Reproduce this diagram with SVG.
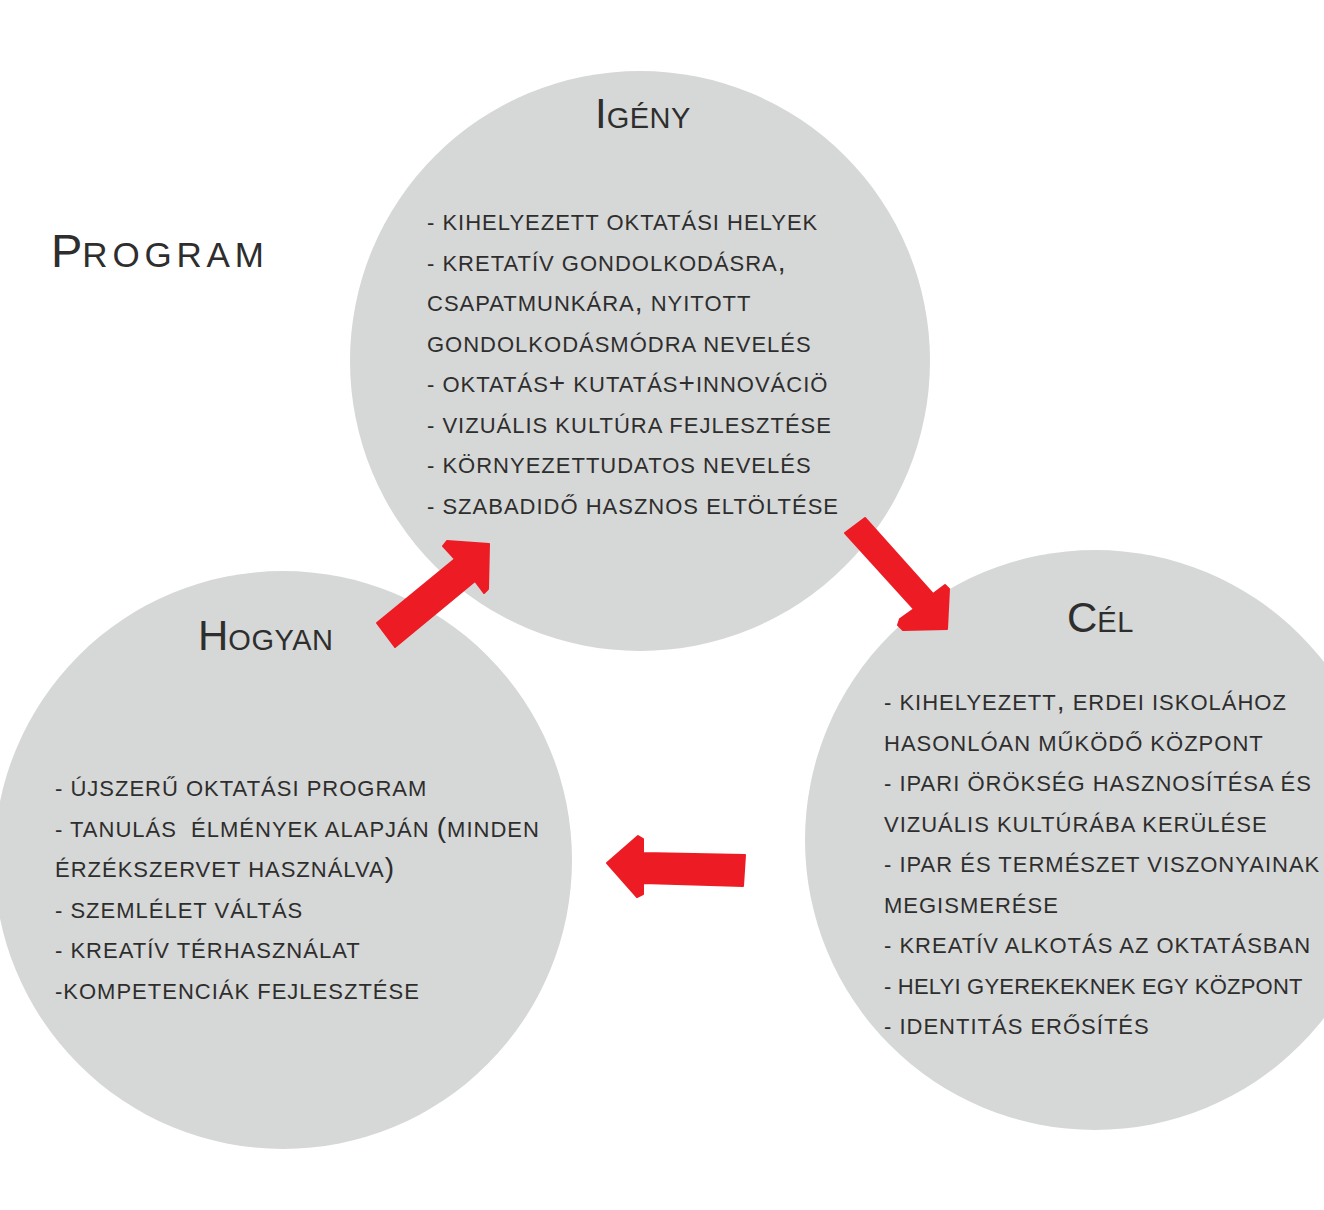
<svg xmlns="http://www.w3.org/2000/svg" width="1324" height="1210" viewBox="0 0 1324 1210">
<style>
.circle{fill:#d6d7d7}
text{font-family:"Liberation Sans",Arial,sans-serif;fill:#2e2e2e}
.body{font-size:22px;letter-spacing:1px;white-space:pre}
.big{font-size:42px}
.small{font-size:29px;letter-spacing:0.5px}
.p{font-size:28px}
.arrow{fill:#ed1c24;stroke:#ed1c24;stroke-width:2;stroke-linejoin:round}
</style>
<rect width="1324" height="1210" fill="#ffffff"/>
<g id="title">
<text x="51" y="267"><tspan font-size="47">P</tspan><tspan font-size="35" letter-spacing="4.8">ROGRAM</tspan></text>
</g>
<g id="node-igeny">
<circle class="circle" cx="640" cy="361" r="290"/>
<text x="595" y="128"><tspan class="big">I</tspan><tspan class="small">GÉNY</tspan></text>
<text class="body" x="427" y="230">- KIHELYEZETT OKTATÁSI HELYEK</text>
<text class="body" x="427" y="270.5">- KRETATÍV GONDOLKODÁSRA<tspan class="p">,</tspan></text>
<text class="body" x="427" y="311">CSAPATMUNKÁRA<tspan class="p">,</tspan> NYITOTT</text>
<text class="body" x="427" y="351.5">GONDOLKODÁSMÓDRA NEVELÉS</text>
<text class="body" x="427" y="392">- OKTATÁS<tspan class="p">+</tspan> KUTATÁS<tspan class="p">+</tspan>INNOVÁCIÖ</text>
<text class="body" x="427" y="432.5">- VIZUÁLIS KULTÚRA FEJLESZTÉSE</text>
<text class="body" x="427" y="473">- KÖRNYEZETTUDATOS NEVELÉS</text>
<text class="body" x="427" y="513.5">- SZABADIDŐ HASZNOS ELTÖLTÉSE</text>
</g>
<g id="node-cel">
<circle class="circle" cx="1095" cy="840" r="290"/>
<text x="1067" y="632"><tspan class="big">C</tspan><tspan class="small">ÉL</tspan></text>
<text class="body" x="884" y="710">- KIHELYEZETT<tspan class="p">,</tspan> ERDEI ISKOLÁHOZ</text>
<text class="body" x="884" y="750.5">HASONLÓAN MŰKÖDŐ KÖZPONT</text>
<text class="body" x="884" y="791">- IPARI ÖRÖKSÉG HASZNOSÍTÉSA ÉS</text>
<text class="body" x="884" y="831.5">VIZUÁLIS KULTÚRÁBA KERÜLÉSE</text>
<text class="body" x="884" y="872">- IPAR ÉS TERMÉSZET VISZONYAINAK</text>
<text class="body" x="884" y="912.5">MEGISMERÉSE</text>
<text class="body" x="884" y="953">- KREATÍV ALKOTÁS AZ OKTATÁSBAN</text>
<text class="body" x="884" y="993.5" style="letter-spacing:0.2px">- HELYI GYEREKEKNEK EGY KÖZPONT</text>
<text class="body" x="884" y="1034">- IDENTITÁS ERŐSÍTÉS</text>
</g>
<g id="node-hogyan">
<circle class="circle" cx="283" cy="860" r="289"/>
<text x="198" y="650"><tspan class="big">H</tspan><tspan class="small">OGYAN</tspan></text>
<text class="body" x="55" y="796">- ÚJSZERŰ OKTATÁSI PROGRAM</text>
<text class="body" x="55" y="836.5">- TANULÁS  ÉLMÉNYEK ALAPJÁN <tspan class="p">(</tspan>MINDEN</text>
<text class="body" x="55" y="877">ÉRZÉKSZERVET HASZNÁLVA<tspan class="p">)</tspan></text>
<text class="body" x="55" y="917.5">- SZEMLÉLET VÁLTÁS</text>
<text class="body" x="55" y="958">- KREATÍV TÉRHASZNÁLAT</text>
<text class="body" x="55" y="998.5">-KOMPETENCIÁK FEJLESZTÉSE</text>
</g>
<g id="connectors">
<polygon class="arrow" points="377,623 455,559 443,546 447,541 489,544 488,589 484,593 475,581 395,647"/>
<polygon class="arrow" points="865,518 933,594 945,585 949,589 947,629 903,630 898,625 900,619 914,609 845,533"/>
<polygon class="arrow" points="745,855 643,853 643,839 638,836 607,863 637,897 643,894 643,883 743,886"/>
</g>
</svg>
